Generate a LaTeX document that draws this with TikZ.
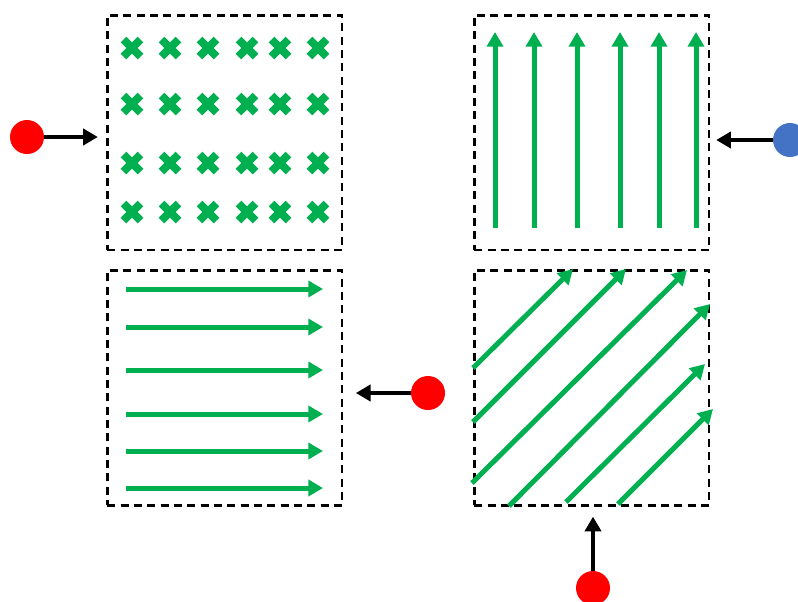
\documentclass[tikz,border=0pt]{standalone}
\usetikzlibrary{positioning,arrows.meta}
\definecolor{fieldgreen}{HTML}{00B050}
\definecolor{blobblue}{HTML}{4472C4}
\tikzset{fieldbox/.style={
  draw=black,
  dash pattern=on 6pt off 4pt,
  line width=2pt,
  minimum size=176pt,
  inner sep=0pt,
  },
  redblob/.style={
  shape=circle,
  fill=red,
  minimum size=25.5pt,
  inner sep=0pt,
  },
  blueblob/.style={redblob, fill=blobblue},
  fieldline/.style={draw=fieldgreen, line width=3.75pt, -{Triangle[width=12pt,length=11pt]}},
  kick/.style={draw=black, line width=3.5pt, -{Triangle[width=12pt,length=11pt]}},
  cross/.style={draw=fieldgreen, line width=6pt},
}
\begin{document}
\begin{tikzpicture}[x=0.75pt, y=-0.75pt]
  \useasboundingbox (0,0) rectangle (798,601);
  \clip (0,0) rectangle (798,601);

  % the four boxes
  \node[fieldbox] (xfield) at (224.5,132.5) {};
  \node[fieldbox, right=97.25pt of xfield] (upfield) {};
  \node[fieldbox, below=13.6pt of xfield] (rightfield) {};
  \node[fieldbox, below=13.6pt of upfield] (slantfield) {};

  % field inside the boxes
  \foreach \x in {132,170,208,247,280,318}
    \foreach \y in {48,104,163,212}
      \draw[cross] ({\x-8.5},{\y-8.5}) -- ({\x+8.5},{\y+8.5}) ({\x-8.5},{\y+8.5}) -- ({\x+8.5},{\y-8.5});
  \foreach \x in {495,534,577,620,659,696}
    \draw[fieldline] (\x,228) -- (\x,32);
  \foreach \y in {289,327,370,414,451,488}
    \draw[fieldline] (126,\y) -- (323,\y);
  \foreach \a/\b/\c/\d in {473/368/573/269, 473/422/626/269, 472/483/687/270,
                           509/506/710/304, 566/502/705/364, 618/504/713/409}
    \draw[fieldline] (\a,\b) -- (\c,\d);

  % incoming particles
  \node[redblob] (p1) at (27,137) {};
  \node[blueblob] (p2) at (790,140) {};
  \node[redblob] (p3) at (428,393) {};
  \node[redblob] (p4) at (593,588) {};

  \draw[kick, shorten >=6pt] (p1) -- (p1 -| xfield.west);
  \draw[kick, shorten >=4.5pt] (p2) -- (p2 -| upfield.east);
  \draw[kick, shorten >=9.5pt] (p3) -- (p3 -| rightfield.east);
  \draw[kick, shorten >=7.5pt] (p4) -- (p4 |- slantfield.south);
\end{tikzpicture}
\end{document}
